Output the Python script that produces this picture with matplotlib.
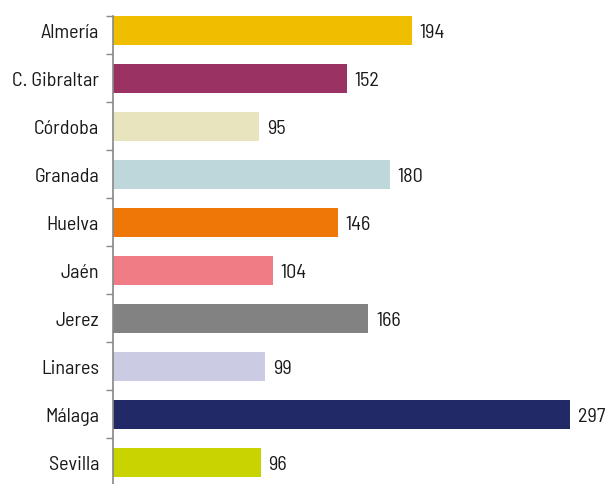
import matplotlib.pyplot as plt

names = ['Almería', 'C. Gibraltar', 'Córdoba', 'Granada', 'Huelva', 'Jaén',
         'Jerez', 'Linares', 'Málaga', 'Sevilla']
values = [194, 152, 95, 180, 146, 104, 166, 99, 297, 96]
colors = ['#F0BE00', '#9A3264', '#E8E4BE', '#BED7DA', '#EE7707', '#F07D86',
          '#828282', '#CCCBE4', '#212966', '#C8D300']

plt.rcParams['font.family'] = ['Barlow Semi Condensed', 'DejaVu Sans']

fig = plt.figure(figsize=(6.1, 4.85), dpi=100)
ax = fig.add_axes([113 / 610, 0, 1 - 113 / 610, (485 - 17) / 485])

y = list(range(len(names)))
ax.barh(y, values, height=0.6, color=colors)
for i, v in enumerate(values):
    ax.text(v + 5, i + 0.04, str(v), va='center', ha='left', fontsize=14.5, color='#1a1a1a')

ax.set_xlim(0, 323)
ax.set_ylim(9.45, -0.3)
ax.set_yticks(y)
ax.set_yticklabels(names, fontsize=14.5, color='#1a1a1a')
ax.tick_params(axis='y', which='major', length=0, pad=10)
ax.set_yticks([-0.3] + [i + 0.5 for i in range(9)], minor=True)
ax.tick_params(axis='y', which='minor', length=5, width=1, color='#888888')
ax.set_xticks([])
for s in ['top', 'right', 'bottom']:
    ax.spines[s].set_visible(False)
ax.spines['left'].set_color('#888888')
ax.spines['left'].set_linewidth(1.2)

fig.savefig('out.png', dpi=100)
